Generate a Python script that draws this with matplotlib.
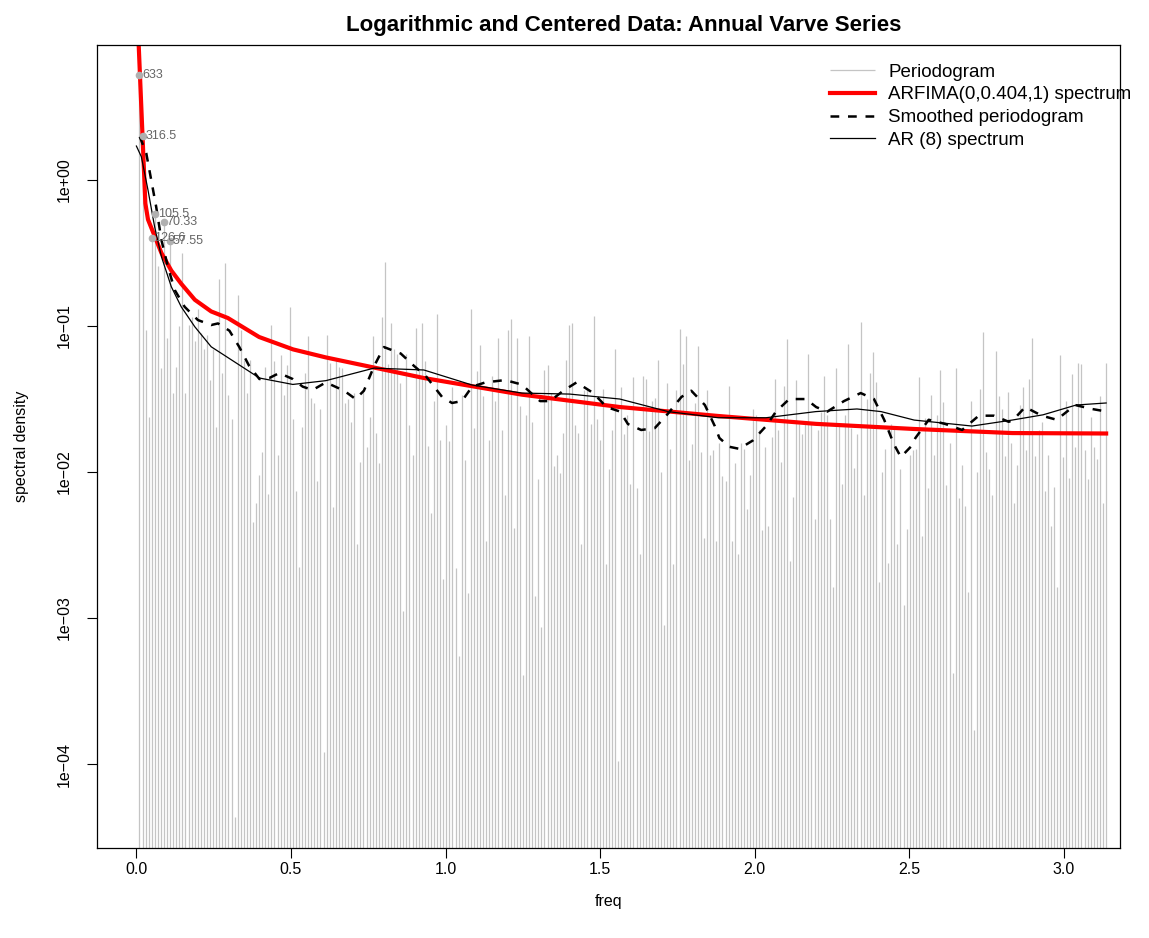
import numpy as np
import matplotlib
matplotlib.use("Agg")
import matplotlib.pyplot as plt

plt.rcParams['font.family'] = ['Liberation Sans', 'DejaVu Sans']

# periodogram ordinates (log10 of spectral density), k = 1..316, n = 633
log_pgram = [
    0.72, 0.30, -1.03, -1.62, -0.40, -0.23, -0.59, -1.29, -0.29, -1.08,
    -0.42, -1.46, -1.28, -1.00, -0.50, -1.46, -0.99, -0.94, -1.10, -0.88,
    -1.05, -1.16, -1.06, -1.37, -1.16, -1.69, -0.68, -1.32, -0.57,
    -1.47, -1.64, -4.36, -0.79, -1.03, -1.23, -1.46, -1.23, -2.34, -2.21,
    -2.02, -1.86, -1.28, -2.15, -0.99, -1.24, -1.88, -1.20, -1.47, -1.27,
    -0.87, -1.64, -2.13, -2.65, -1.69, -1.32, -1.07, -1.49, -1.53, -2.06,
    -1.57, -3.92,
    -1.06, -1.25, -2.24, -1.23, -1.28, -1.29, -1.53, -1.50, -1.66, -1.46,
    -2.49, -1.93, -1.44, -1.83, -1.62, -1.07, -1.73, -1.94, -0.94, -0.56,
    -1.26, -0.98, -1.16, -1.19, -1.39, -2.95, -1.19, -1.68, -1.88, -1.01,
    -1.30, -0.98,
    -1.24, -1.82, -2.28, -1.51, -0.92, -1.78, -2.73, -1.68, -1.79, -1.42,
    -2.66, -3.26, -1.47, -1.92, -2.83, -0.88, -1.70, -1.31, -1.13, -1.48,
    -2.47, -1.78, -1.34, -1.51, -1.08, -1.71, -2.16, -1.03, -0.95, -2.38,
    -1.08, -1.55,
    -3.39, -1.61, -1.07, -1.66, -2.85, -2.05, -3.06, -1.30, -1.27, -1.46,
    -1.96, -1.88, -2.01, -1.73, -1.23, -0.99, -0.98, -1.68, -1.73, -2.49,
    -1.44, -1.44, -1.67, -0.93, -1.64, -1.78, -1.43, -2.63, -1.98, -1.71,
    -1.16, -3.98,
    -1.42, -1.74, -1.61, -2.08, -1.35, -2.11, -2.56, -1.34, -1.36, -1.72,
    -1.51, -1.49, -1.23, -2.00, -3.05, -1.39, -1.84, -2.63, -1.44, -1.02,
    -1.26, -1.07, -1.92, -1.81, -1.53, -1.14, -1.86, -2.45, -1.44, -1.88,
    -1.85, -2.47,
    -1.80, -2.03, -2.06, -1.41, -2.47, -1.94, -2.56, -1.80, -1.84, -2.25,
    -2.02, -1.57, -1.61, -1.71, -2.40, -1.83, -2.37, -1.76, -1.36, -1.71,
    -1.93, -1.41, -1.09, -2.61, -2.17, -1.37, -1.67, -1.74, -1.67, -1.19,
    -1.66, -2.32,
    -1.71, -1.59, -1.34, -1.61, -2.32, -2.79, -1.29, -1.68, -2.08, -1.61,
    -1.12, -1.70, -1.97, -1.74, -0.97, -2.16, -1.50, -1.32, -1.18, -1.38,
    -2.75, -2.00, -1.84, -2.62, -1.67, -1.69, -2.49, -1.98, -2.91, -2.39,
    -1.88, -1.85,
    -1.84, -1.35, -2.44, -1.63, -2.11, -1.47, -1.88, -1.61, -1.30, -1.52,
    -2.09, -1.80, -3.38, -1.29, -2.18, -1.95, -2.23, -2.82, -1.51, -3.77,
    -2.00, -1.43, -1.04, -1.86, -1.98, -2.16, -1.17, -1.48, -1.57, -1.89,
    -1.45, -1.80,
    -2.21, -1.95, -1.54, -1.42, -1.85, -1.36, -1.08, -1.89, -1.71, -1.66,
    -2.13, -1.88, -2.37, -2.10, -2.79, -1.20, -1.90, -1.51, -2.04, -1.33,
    -1.83, -1.25, -1.26, -1.85, -2.05, -1.62, -1.83, -1.91, -1.48, -2.21,
    -1.25,
]
n_obs = 633

# ARFIMA(0,0.404,1) spectrum
arfima_freq = [0.002, 0.029, 0.0375, 0.064, 0.081, 0.113, 0.145, 0.189, 0.242, 0.296,
               0.397, 0.507, 0.613, 0.930, 1.247, 1.565, 1.882, 2.198, 2.515, 2.833, 3.137]
arfima_log = [1.2, -0.16, -0.27, -0.41, -0.50, -0.62, -0.71, -0.82, -0.90, -0.945,
              -1.075, -1.16, -1.215, -1.356, -1.47, -1.555, -1.616, -1.67, -1.705, -1.733, -1.736]

# smoothed periodogram
smooth_freq = [0.011, 0.032, 0.048, 0.064, 0.081, 0.102, 0.124, 0.156, 0.199, 0.242,
               0.264, 0.301, 0.333, 0.365, 0.398, 0.430, 0.462, 0.506, 0.538, 0.570,
               0.613, 0.672, 0.709, 0.736, 0.769, 0.801, 0.855, 0.898, 0.936, 0.989,
               1.021, 1.053, 1.086, 1.129, 1.193, 1.247, 1.284, 1.306, 1.338, 1.381,
               1.424, 1.478, 1.521, 1.565, 1.590, 1.633, 1.677, 1.720, 1.763, 1.795,
               1.839, 1.871, 1.886, 1.918, 1.950, 1.994, 2.037, 2.069, 2.112, 2.166,
               2.199, 2.235, 2.289, 2.343, 2.386, 2.419, 2.451, 2.473, 2.505, 2.520,
               2.563, 2.617, 2.671, 2.725, 2.774, 2.822, 2.837, 2.875, 2.929, 2.977,
               3.037, 3.091, 3.139]
smooth_log = [0.297, 0.183, 0.0, -0.183, -0.411, -0.594, -0.753, -0.868, -0.959, -0.993,
              -0.982, -1.032, -1.144, -1.274, -1.363, -1.356, -1.322, -1.363, -1.415, -1.438,
              -1.386, -1.443, -1.50, -1.443, -1.274, -1.144, -1.188, -1.273, -1.342, -1.486,
              -1.527, -1.514, -1.415, -1.386, -1.370, -1.401, -1.473, -1.514, -1.514, -1.443,
              -1.386, -1.459, -1.555, -1.586, -1.671, -1.712, -1.699, -1.599, -1.486, -1.443,
              -1.541, -1.685, -1.767, -1.827, -1.841, -1.784, -1.685, -1.586, -1.50, -1.50,
              -1.555, -1.586, -1.514, -1.459, -1.50, -1.642, -1.812, -1.897, -1.827, -1.767,
              -1.642, -1.671, -1.712, -1.614, -1.614, -1.656, -1.642, -1.555, -1.614, -1.642,
              -1.541, -1.568, -1.586]

# AR(8) spectrum
ar_freq = [0.0, 0.016, 0.0375, 0.059, 0.081, 0.113, 0.145, 0.189, 0.242, 0.296,
           0.398, 0.506, 0.613, 0.769, 0.930, 1.086, 1.247, 1.402, 1.564, 1.720,
           1.882, 2.037, 2.198, 2.331, 2.409, 2.516, 2.703, 2.833, 2.933, 3.040, 3.137]
ar_log = [0.233, 0.160, -0.068, -0.32, -0.525, -0.731, -0.868, -1.005, -1.142, -1.216,
          -1.356, -1.40, -1.374, -1.288, -1.301, -1.404, -1.459, -1.466, -1.50, -1.586,
          -1.628, -1.628, -1.586, -1.568, -1.586, -1.644, -1.685, -1.644, -1.608, -1.541, -1.527]

# labelled peaks: harmonic index and period label
peak_k = [1, 2, 5, 6, 9, 11]
peak_labels = ["633", "316.5", "126.6", "105.5", "70.33", "57.55"]

freq = 2 * np.pi * np.arange(1, len(log_pgram) + 1) / n_obs
pgram = 10 ** np.array(log_pgram)

fig = plt.figure(figsize=(11.49, 9.38), dpi=100)
ax = fig.add_axes([0.0844, 0.096, 0.8904, 0.856])

ax.vlines(freq, 1e-8, pgram, color='#C4C4C4', lw=0.9, label='Periodogram')
ax.plot(arfima_freq, 10 ** np.array(arfima_log), color='red', lw=3,
        label='ARFIMA(0,0.404,1) spectrum')
ax.plot(smooth_freq, 10 ** np.array(smooth_log), color='black', lw=1.8,
        dashes=(3.5, 3.5), label='Smoothed periodogram')
ax.plot(ar_freq, 10 ** np.array(ar_log), color='black', lw=0.9, label='AR (8) spectrum')

for k, lab in zip(peak_k, peak_labels):
    ax.plot(freq[k - 1], pgram[k - 1], 'o', color='#B0B0B0', ms=4.5)
    ax.annotate(lab, (freq[k - 1], pgram[k - 1]), xytext=(2, 0), textcoords='offset points',
                va='center', ha='left', fontsize=9, color='#666666')

ax.set_yscale('log')
ax.set_ylim(10 ** -4.575, 10 ** 0.925)
ax.set_xlim(-0.1275, 3.182)
ax.set_yticks([1e0, 1e-1, 1e-2, 1e-3, 1e-4])
ax.set_yticklabels(['1e+00', '1e\u221201', '1e\u221202', '1e\u221203', '1e\u221204'],
                   rotation=90, va='center')
ax.yaxis.set_minor_locator(matplotlib.ticker.NullLocator())
ax.set_xticks([0, 0.5, 1.0, 1.5, 2.0, 2.5, 3.0])
ax.set_xticklabels(['0.0', '0.5', '1.0', '1.5', '2.0', '2.5', '3.0'])
ax.tick_params(labelsize=11.5, length=7, width=0.8)
ax.tick_params(axis='x', pad=3)
ax.tick_params(axis='y', pad=11)
for s in ax.spines.values():
    s.set_linewidth(0.9)

ax.set_xlabel('freq', fontsize=11.5, labelpad=12)
ax.set_ylabel('spectral density', fontsize=11.5, labelpad=20)
ax.set_title('Logarithmic and Centered Data: Annual Varve Series', fontsize=16,
             fontweight='bold', pad=10, x=0.515)

ax.legend(loc='upper left', bbox_to_anchor=(0.7165, 0.977), frameon=False,
          fontsize=13.5, handlelength=2.4, handletextpad=0.7, labelspacing=0.3,
          borderpad=0, borderaxespad=0)

plt.savefig('out.png', dpi=100)
